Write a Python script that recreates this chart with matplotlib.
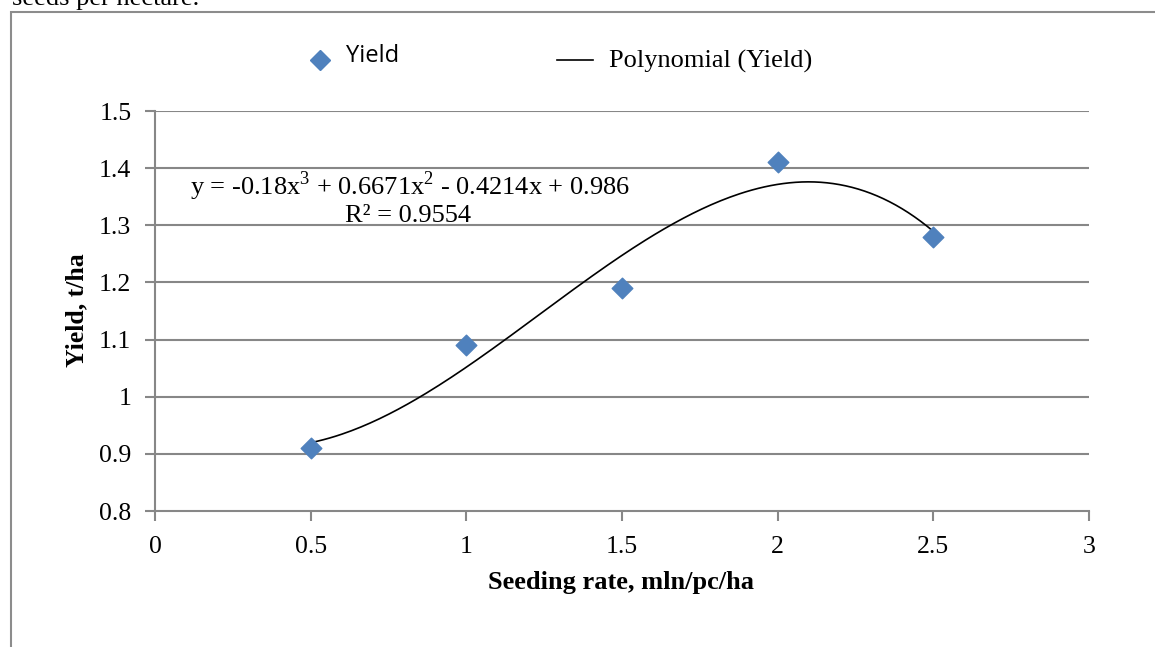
import matplotlib as mpl
mpl.use('Agg')
import matplotlib.pyplot as plt
import numpy as np
from matplotlib.lines import Line2D
from matplotlib.patches import Rectangle

# seeding rate vs yield
rates = [0.5, 1.0, 1.5, 2.0, 2.5]
yields = [0.91, 1.09, 1.19, 1.41, 1.28]

# trendline coefficients shown on the chart (3rd order polynomial)
coefs = [-0.18, 0.6671, -0.4214, 0.986]
r2 = 0.9554

xticks = [0, 0.5, 1, 1.5, 2, 2.5, 3]
xticklabels = ['0', '0.5', '1', '1.5', '2', '2.5', '3']
yticks = [0.8, 0.9, 1.0, 1.1, 1.2, 1.3, 1.4, 1.5]
yticklabels = ['0.8', '0.9', '1', '1.1', '1.2', '1.3', '1.4', '1.5']

serif = 'Liberation Serif'
grey = '#878787'
blue = '#4F81BD'
W, H = 1155, 647

mpl.rcParams['mathtext.fontset'] = 'custom'
mpl.rcParams['mathtext.rm'] = serif

fig = plt.figure(figsize=(W / 100, H / 100), dpi=100)
ax = fig.add_axes([155/W, 1 - 511/H, (1089 - 155)/W, (511 - 111)/H])

# outer chart frame (runs off the right and bottom edges)
fig.patches.append(Rectangle((11/W, -0.05), 1.2, 1 - 12/H + 0.05,
                             transform=fig.transFigure, fill=False,
                             edgecolor='#8c8c8c', linewidth=1.5))
fig.text(12/W, 1 - 5/H, 'seeds per hectare.', family=serif,
         fontsize=19, va='baseline', ha='left')

# gridlines
for yv in yticks[1:]:
    ax.axhline(yv, color=grey, linewidth=1.5, zorder=1)

xs = np.linspace(rates[0], rates[-1], 200)
ax.plot(xs, np.polyval(coefs, xs), color='black', linewidth=1.2, zorder=2)
ax.scatter(rates, yields, marker='D', s=110, color=blue, zorder=3)

ax.set_xlim(0, 3)
ax.set_ylim(0.8, 1.5)
ax.set_xticks(xticks)
ax.set_xticklabels(xticklabels)
ax.set_yticks(yticks)
ax.set_yticklabels(yticklabels)
for lab in ax.get_xticklabels() + ax.get_yticklabels():
    lab.set_fontfamily(serif)
    lab.set_fontsize(18.5)
ax.tick_params(axis='x', direction='out', length=7, width=1.5, color=grey, pad=11)
ax.tick_params(axis='y', direction='out', length=7, width=1.5, color=grey, pad=10)
for side in ['top', 'right']:
    ax.spines[side].set_visible(False)
for side in ['left', 'bottom']:
    ax.spines[side].set_color(grey)
    ax.spines[side].set_linewidth(1.5)

# axis titles
fig.text(621/W, 1 - 582/H, 'Seeding rate, mln/pc/ha', family=serif,
         fontsize=19, fontweight='bold', ha='center', va='center')
fig.text(77/W, 1 - 310/H, 'Yield, t/ha', family=serif, fontsize=18.5,
         fontweight='bold', rotation=90, ha='center', va='center')

# trendline equation
fig.text(410/W, 1 - 186/H,
         'y = -0.18x$^3$ + 0.6671x$^2$ - 0.4214x + 0.986',
         family=serif, fontsize=19, ha='center', va='center')
fig.text(408/W, 1 - 216/H, 'R² = %.4f' % r2, family=serif, fontsize=19,
         ha='center', va='center')

# legend drawn on the figure
fig.lines.append(Line2D([320/W], [1 - 60/H], marker='D', markersize=10,
                        color=blue, linestyle='none', transform=fig.transFigure))
fig.text(346/W, 1 - 56/H, 'Yield', family='Open Sans', fontsize=17,
         ha='left', va='center')
fig.lines.append(Line2D([557/W, 593/W], [1 - 60/H, 1 - 60/H],
                        color='black', linewidth=1.2, transform=fig.transFigure))
fig.text(609/W, 1 - 61/H, 'Polynomial (Yield)', family=serif, fontsize=19,
         ha='left', va='center')

plt.savefig('out.png', dpi=100)
print("Done!")
